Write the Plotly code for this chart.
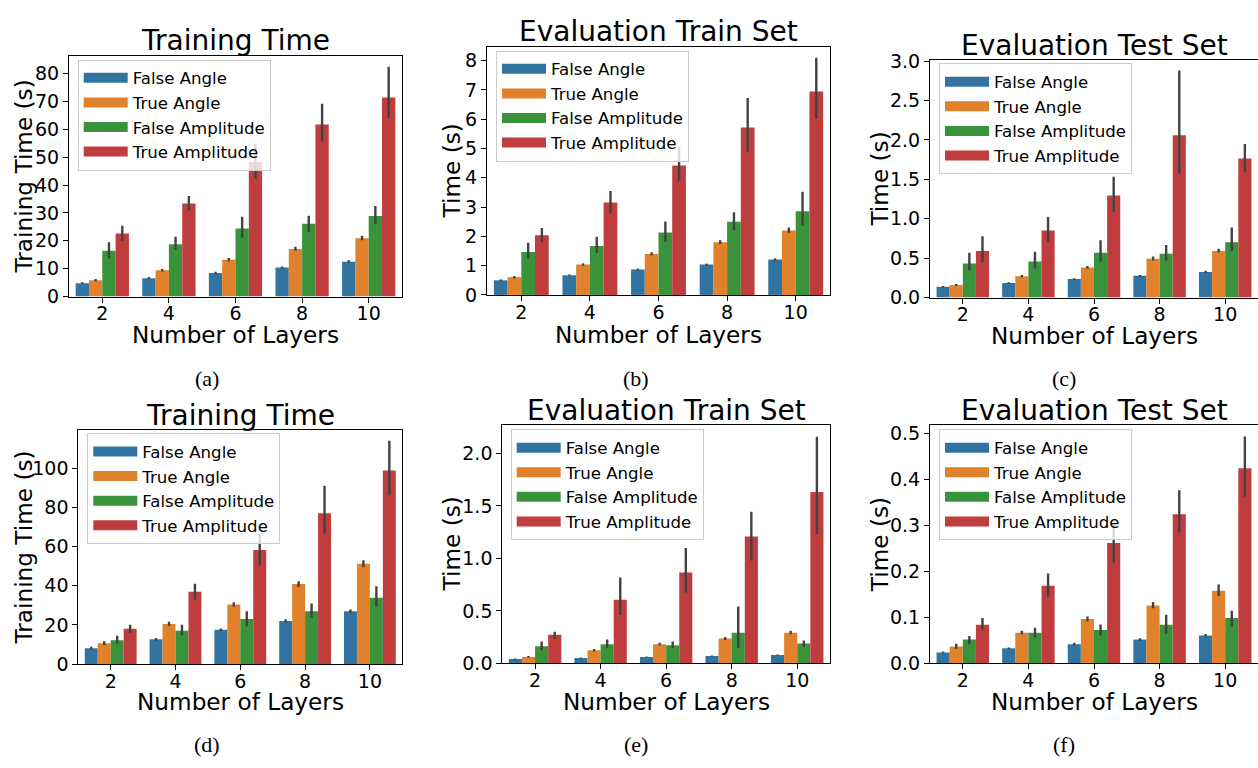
import plotly.graph_objects as go

W, H = 1258, 768

layers = ["2", "4", "6", "8", "10"]
series = ["False Angle", "True Angle", "False Amplitude", "True Amplitude"]
colors = ["#3274a1", "#e1812c", "#3a923a", "#c03d3e"]

# ---- (a) Training Time ----
a_mean = [[4.8, 6.6, 8.5, 10.4, 12.5],
          [5.9, 9.4, 13.2, 17.1, 20.9],
          [16.4, 18.8, 24.4, 26.1, 28.9],
          [22.6, 33.4, 48.3, 61.7, 71.4]]
a_lo = [[4.5, 6.3, 8.1, 10.1, 12.0],
        [5.5, 9.0, 12.7, 16.4, 20.2],
        [13.7, 16.8, 21.1, 23.1, 26.0],
        [19.9, 30.9, 42.3, 55.6, 64.0]]
a_hi = [[5.1, 7.0, 8.9, 10.8, 13.0],
        [6.3, 9.9, 13.8, 17.9, 21.8],
        [19.5, 21.5, 28.6, 29.0, 32.5],
        [25.4, 36.1, 54.8, 69.2, 82.4]]

# ---- (b) Evaluation Train Set ----
b_mean = [[0.50, 0.67, 0.87, 1.04, 1.21],
          [0.61, 1.04, 1.40, 1.80, 2.20],
          [1.47, 1.67, 2.13, 2.50, 2.86],
          [2.04, 3.16, 4.42, 5.72, 6.95]]
b_lo = [[0.47, 0.65, 0.84, 1.00, 1.17],
        [0.57, 1.00, 1.35, 1.74, 2.12],
        [1.23, 1.43, 1.81, 2.21, 2.37],
        [1.81, 2.78, 3.90, 4.89, 6.03]]
b_hi = [[0.53, 0.70, 0.90, 1.07, 1.25],
        [0.65, 1.08, 1.46, 1.87, 2.30],
        [1.78, 1.99, 2.51, 2.82, 3.52],
        [2.29, 3.55, 5.05, 6.73, 8.10]]

# ---- (c) Evaluation Test Set ----
c_mean = [[0.136, 0.185, 0.234, 0.275, 0.325],
          [0.160, 0.271, 0.382, 0.493, 0.592],
          [0.432, 0.456, 0.567, 0.555, 0.703],
          [0.592, 0.851, 1.295, 2.060, 1.763]]
c_lo = [[0.126, 0.176, 0.224, 0.265, 0.310],
        [0.150, 0.258, 0.365, 0.470, 0.570],
        [0.345, 0.370, 0.456, 0.469, 0.592],
        [0.444, 0.703, 1.089, 1.574, 1.595]]
c_hi = [[0.146, 0.195, 0.244, 0.285, 0.340],
        [0.172, 0.285, 0.400, 0.520, 0.620],
        [0.567, 0.580, 0.727, 0.666, 0.888],
        [0.777, 1.023, 1.533, 2.881, 1.948]]

# ---- (d) Training Time ----
d_mean = [[8.1, 12.6, 17.5, 22.0, 26.9],
          [10.6, 20.5, 30.4, 40.8, 51.2],
          [12.1, 17.0, 23.0, 26.9, 33.9],
          [18.0, 36.9, 58.2, 77.0, 98.8]]
d_lo = [[7.4, 11.9, 16.8, 21.2, 25.9],
        [9.6, 19.4, 29.2, 39.3, 49.4],
        [10.2, 14.7, 19.2, 23.6, 29.3],
        [15.9, 32.9, 50.2, 66.8, 86.1]]
d_hi = [[8.8, 13.3, 18.2, 22.8, 27.9],
        [11.6, 21.6, 31.6, 42.3, 53.0],
        [14.4, 20.0, 27.0, 30.9, 39.7],
        [20.0, 41.0, 66.8, 91.0, 114.0]]

# ---- (e) Evaluation Train Set ----
e_mean = [[0.043, 0.052, 0.062, 0.071, 0.080],
          [0.062, 0.126, 0.182, 0.237, 0.293],
          [0.163, 0.182, 0.173, 0.293, 0.191],
          [0.274, 0.607, 0.866, 1.208, 1.633]]
e_lo = [[0.038, 0.047, 0.057, 0.066, 0.075],
        [0.054, 0.115, 0.170, 0.224, 0.278],
        [0.126, 0.145, 0.148, 0.148, 0.157],
        [0.234, 0.462, 0.672, 0.980, 1.230]]
e_hi = [[0.048, 0.057, 0.067, 0.076, 0.085],
        [0.070, 0.138, 0.196, 0.252, 0.312],
        [0.209, 0.228, 0.209, 0.542, 0.219],
        [0.302, 0.817, 1.100, 1.445, 2.157]]

# ---- (f) Evaluation Test Set ----
f_mean = [[0.024, 0.033, 0.042, 0.052, 0.061],
          [0.037, 0.067, 0.097, 0.126, 0.158],
          [0.052, 0.067, 0.073, 0.084, 0.099],
          [0.084, 0.169, 0.262, 0.325, 0.425]]
f_lo = [[0.022, 0.031, 0.039, 0.049, 0.058],
        [0.032, 0.063, 0.092, 0.120, 0.147],
        [0.042, 0.056, 0.061, 0.065, 0.080],
        [0.073, 0.145, 0.220, 0.285, 0.363]]
f_hi = [[0.026, 0.035, 0.045, 0.055, 0.064],
        [0.043, 0.071, 0.102, 0.134, 0.172],
        [0.060, 0.078, 0.085, 0.106, 0.115],
        [0.099, 0.196, 0.303, 0.377, 0.494]]

titles = ["Training Time", "Evaluation Train Set", "Evaluation Test Set",
          "Training Time", "Evaluation Train Set", "Evaluation Test Set"]
ytitles = ["Training Time (s)", "Time (s)", "Time (s)",
           "Training Time (s)", "Time (s)", "Time (s)"]
captions = ["(a)", "(b)", "(c)", "(d)", "(e)", "(f)"]
xtitle = "Number of Layers"

FONT = "DejaVu Sans"
TICK_SIZE = 19
AXT_SIZE = 23.2
TITLE_SIZE = 28
LEG_SIZE = 16.6


def px_x(v):
    return min(max(v / W, 0.0), 1.0)


def px_y(v):
    return min(max(1 - v / H, 0.0), 1.0)


# box: (left, right, top, bottom) px; tb/xb: title / x-title baseline px; ytx: y-title centre x px
panels = [
    dict(mean=a_mean, lo=a_lo, hi=a_hi, box=(69, 402, 46, 294), yr=86.4, dt=10, fmt="d",
         leg=(77.7, 50), cap=(207, 378), mirror=True, tb=40, xb=341.5, ytx=23.3),
    dict(mean=b_mean, lo=b_lo, hi=b_hi, box=(487, 830, 36.7, 292.3), yr=8.48, dt=1, fmt="d",
         leg=(496, 40.7), cap=(636, 378), mirror=True, tb=30.7, xb=341.5, ytx=451.7),
    dict(mean=c_mean, lo=c_lo, hi=c_hi, box=(930, 1258, 50.7, 295), yr=3.01, dt=0.5, fmt=".1f",
         leg=(939, 54), cap=(1064, 378), mirror=False, tb=45, xb=342.2, ytx=879.7),
    dict(mean=d_mean, lo=d_lo, hi=d_hi, box=(78.3, 402.3, 431.7, 672.3), yr=119.3, dt=20, fmt="d",
         leg=(87.3, 434.7), cap=(207, 755), mirror=True, tb=425.7, xb=718.8, ytx=23.3),
    dict(mean=e_mean, lo=e_lo, hi=e_hi, box=(502.3, 830, 426.7, 671.7), yr=2.265, dt=0.5, fmt=".1f",
         leg=(510.7, 430.7), cap=(636, 755), mirror=True, tb=421, xb=718.8, ytx=451),
    dict(mean=f_mean, lo=f_lo, hi=f_hi, box=(930, 1258, 426.7, 671.7), yr=0.518, dt=0.1, fmt=".1f",
         leg=(939, 430.7), cap=(1064, 755), mirror=False, tb=421, xb=718.8, ytx=879.7),
]

fig = go.Figure()
layout = dict(
    width=W, height=H,
    margin=dict(l=0, r=0, t=0, b=0),
    paper_bgcolor="white", plot_bgcolor="white",
    barmode="group", bargap=0.2, bargroupgap=0.0,
    font=dict(family=FONT, color="black"),
    annotations=[],
)

for i, p in enumerate(panels):
    n = i + 1
    sfx = "" if n == 1 else str(n)
    xref, yref = "x" + sfx, "y" + sfx
    legname = "legend" + sfx
    for s in range(4):
        m = p["mean"][s]
        lo = p["lo"][s]
        hi = p["hi"][s]
        fig.add_trace(go.Bar(
            x=layers, y=m, name=series[s],
            marker=dict(color=colors[s], line=dict(width=0)),
            error_y=dict(type="data", symmetric=False,
                         array=[h - v for h, v in zip(hi, m)],
                         arrayminus=[v - l for v, l in zip(m, lo)],
                         color="#424242", thickness=2.4, width=0),
            xaxis=xref, yaxis=yref, showlegend=False,
        ))
    for s in range(4):
        fig.add_trace(go.Scatter(
            x=[None], y=[None], mode="lines", name=series[s],
            line=dict(color=colors[s], width=12),
            xaxis=xref, yaxis=yref, legend=legname, showlegend=True,
            hoverinfo="skip",
        ))
    l, r, t, b = p["box"]
    layout["xaxis" + sfx] = dict(
        domain=[px_x(l), px_x(r)], anchor=yref, type="category",
        categoryorder="array", categoryarray=layers, range=[-0.5, 4.5],
        showline=True, linecolor="black", linewidth=1, mirror=True,
        ticks="outside", ticklen=5, tickwidth=1, tickcolor="black",
        ticklabelstandoff=-5,
        tickfont=dict(size=TICK_SIZE, family=FONT, color="black"),
        showgrid=False, zeroline=False, fixedrange=True,
    )
    layout["yaxis" + sfx] = dict(
        domain=[px_y(b), px_y(t)], anchor=xref, range=[0, p["yr"]],
        tick0=0, dtick=p["dt"], tickformat=p["fmt"],
        showline=True, linecolor="black", linewidth=1, mirror=p["mirror"],
        ticks="outside", ticklen=5, tickwidth=1, tickcolor="black",
        tickfont=dict(size=TICK_SIZE, family=FONT, color="black"),
        showgrid=False, zeroline=False, fixedrange=True,
    )
    layout[legname] = dict(
        x=px_x(p["leg"][0]), y=px_y(p["leg"][1]), xanchor="left", yanchor="top",
        xref="paper", yref="paper",
        bgcolor="rgba(255,255,255,0.8)", bordercolor="#cccccc", borderwidth=1,
        font=dict(family=FONT, size=LEG_SIZE, color="black"),
        itemwidth=44, tracegroupgap=0,
    )
    # subplot title
    layout["annotations"].append(dict(
        text=titles[i], x=(px_x(l) + px_x(r)) / 2, y=px_y(p["tb"] - 0.346 * TITLE_SIZE),
        xref="paper", yref="paper", xanchor="center", yanchor="middle", showarrow=False,
        font=dict(family=FONT, size=TITLE_SIZE, color="black"),
    ))
    # x-axis title
    layout["annotations"].append(dict(
        text=xtitle, x=(px_x(l) + px_x(r)) / 2, y=px_y(p["xb"] - 0.346 * AXT_SIZE),
        xref="paper", yref="paper", xanchor="center", yanchor="middle", showarrow=False,
        font=dict(family=FONT, size=AXT_SIZE, color="black"),
    ))
    # y-axis title
    layout["annotations"].append(dict(
        text=ytitles[i], x=px_x(p["ytx"]), y=(px_y(t) + px_y(b)) / 2,
        xref="paper", yref="paper", xanchor="center", yanchor="middle", showarrow=False,
        textangle=-90, font=dict(family=FONT, size=AXT_SIZE, color="black"),
    ))
    # panel caption
    layout["annotations"].append(dict(
        text=captions[i], x=px_x(p["cap"][0]), y=px_y(p["cap"][1]), xref="paper", yref="paper",
        xanchor="center", yanchor="middle", showarrow=False,
        font=dict(family="Liberation Serif", size=22, color="black"),
    ))

fig.update_layout(**layout)
fig.write_html("out.html")
